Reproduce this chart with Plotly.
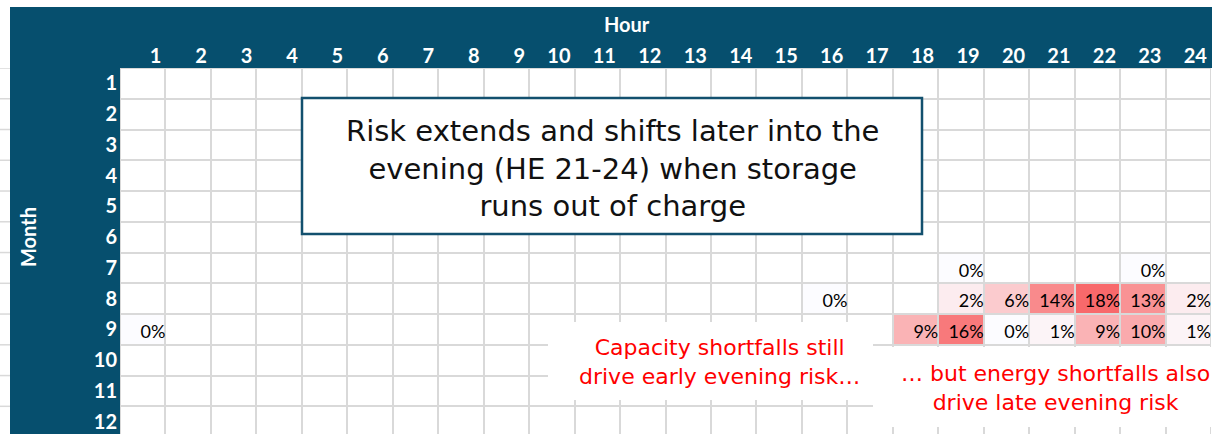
import plotly.graph_objects as go

# Hour-ending columns and month rows
hours = list(range(1, 25))
months = list(range(1, 13))

# Share of annual loss-of-load risk by (month, hour)
risk_month = [7, 7, 8, 8, 8, 8, 8, 8, 8, 9, 9, 9, 9, 9, 9, 9, 9]
risk_hour = [19, 23, 16, 19, 20, 21, 22, 23, 24, 1, 18, 19, 20, 21, 22, 23, 24]
risk_value = [0.00, 0.00, 0.00, 0.02, 0.06, 0.14, 0.18, 0.13, 0.02,
              0.00, 0.09, 0.16, 0.00, 0.01, 0.09, 0.10, 0.01]

HEADER = "#064F6E"
GRID = "#D9D9D9"
W, H = 1214, 434
ML, MR, MT, MB = 120, 3, 68, 0
PW, PH = W - ML - MR, H - MT - MB


def px(x):
    return (x - ML) / PW


def py(y):
    return (H - MB - y) / PH


# matrix of values (None = no risk recorded)
z = [[None for _ in hours] for _ in months]
for m, h, v in zip(risk_month, risk_hour, risk_value):
    z[months.index(m)][hours.index(h)] = v

fig = go.Figure()

# white sheet cells underneath
fig.add_trace(go.Heatmap(
    x=hours, y=months, z=[[0] * len(hours) for _ in months],
    colorscale=[[0, "white"], [1, "white"]], showscale=False,
    xgap=2, ygap=2, hoverinfo="skip",
))

# conditional-format style white-to-red scale
fig.add_trace(go.Heatmap(
    x=hours, y=months, z=z,
    colorscale=[[0, "#FCFCFF"], [1, "#F8696B"]], zmin=0, zmax=max(risk_value),
    showscale=False, xgap=2, ygap=2, hoverinfo="skip",
))

# right-aligned percentage labels in each cell
fig.add_trace(go.Scatter(
    x=[h + 0.5 for h in risk_hour],
    y=[m + 0.14 for m in risk_month],
    text=[f"{v:.0%}" for v in risk_value],
    mode="text", textposition="middle left",
    textfont=dict(family="Lato", size=18, color="black"),
    hoverinfo="skip", showlegend=False,
))

shapes = [
    # header band and month band
    dict(type="rect", xref="paper", yref="paper", x0=px(10), x1=px(1212),
         y0=1, y1=py(7), fillcolor=HEADER, line=dict(width=0), layer="below"),
    dict(type="rect", xref="paper", yref="paper", x0=px(10), x1=0,
         y0=0, y1=1, fillcolor=HEADER, line=dict(width=0), layer="below"),
]
# sheet gridlines peeking out left of the month band
for k in range(13):
    shapes.append(dict(type="line", xref="paper", yref="y", x0=px(0), x1=px(10),
                       y0=k + 0.5, y1=k + 0.5, line=dict(color=GRID, width=1.5)))

# callout boxes
shapes += [
    dict(type="rect", xref="paper", yref="paper", x0=px(302), x1=px(922),
         y0=py(234), y1=py(98), fillcolor="white",
         line=dict(color="#13506E", width=2.5), layer="above"),
    dict(type="rect", xref="paper", yref="paper", x0=px(548), x1=px(873),
         y0=py(400), y1=py(322), fillcolor="white", line=dict(width=0), layer="above"),
    dict(type="rect", xref="paper", yref="paper", x0=px(873), x1=px(1214),
         y0=py(427), y1=py(347), fillcolor="white", line=dict(width=0), layer="above"),
]

CALLOUT_FONT = "DejaVu Sans"
annotations = [
    dict(text="<b>Hour</b>", x=px(627), y=py(24),
         font=dict(family="Lato", size=20, color="white")),
    dict(text="<b>Month</b>", x=px(28), y=py(237), textangle=-90,
         font=dict(family="Lato", size=20, color="white")),
    dict(text="Risk extends and shifts later into the<br>evening (HE 21-24) when storage<br>runs out of charge",
         x=px(612), y=py(168),
         font=dict(family=CALLOUT_FONT, size=29, color="#111111")),
    dict(text="Capacity shortfalls still<br>drive early evening risk…",
         x=px(719), y=py(362),
         font=dict(family=CALLOUT_FONT, size=22, color="#FF0000")),
    dict(text="… but energy shortfalls also<br>drive late evening risk",
         x=px(1055), y=py(388),
         font=dict(family=CALLOUT_FONT, size=22, color="#FF0000")),
]
for a in annotations:
    a.update(xref="paper", yref="paper", xanchor="center", yanchor="middle",
             showarrow=False)

fig.update_layout(
    width=W, height=H,
    margin=dict(l=ML, r=MR, t=MT, b=MB, pad=0),
    paper_bgcolor="white", plot_bgcolor=GRID,
    shapes=shapes, annotations=annotations,
    showlegend=False,
)
# hour labels sit right-aligned in their columns
fig.update_xaxes(
    side="top", range=[0.5, 24.5],
    tickvals=[h + 0.41 for h in hours], ticktext=[str(h) for h in hours],
    ticklabelposition="outside left",
    ticks="", showgrid=False, zeroline=False, showline=False,
    tickfont=dict(family="Lato", size=20, color="white", weight="bold"),
)
fig.update_yaxes(
    range=[12.4, 0.5], tickvals=months, ticktext=[str(m) for m in months],
    ticks="", showgrid=False, zeroline=False, showline=False, ticklabelstandoff=2,
    tickfont=dict(family="Lato", size=20, color="white", weight="bold"),
)

fig.write_html("out.html")
